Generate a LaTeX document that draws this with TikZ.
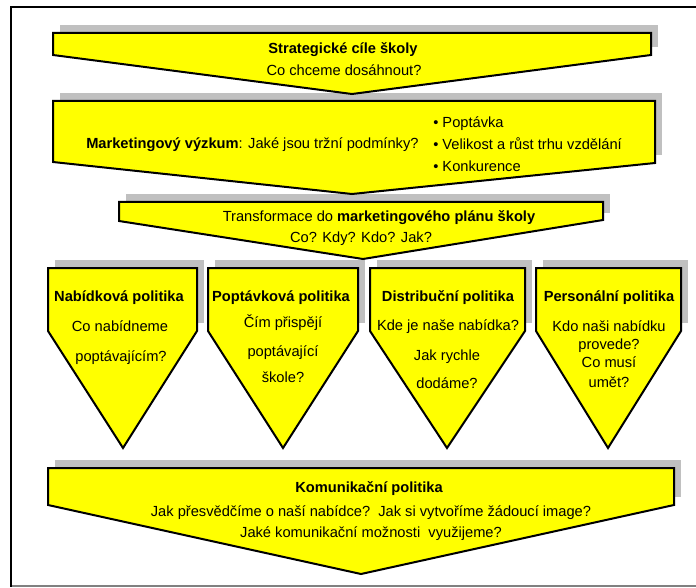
\documentclass[tikz,border=0pt]{standalone}
\usepackage{fontspec}
\setmainfont{Liberation Sans}
\definecolor{shadowgray}{HTML}{C0C0C0}
\definecolor{framegray}{HTML}{808080}
\definecolor{panelyellow}{HTML}{FFFF00}
\begin{document}
\begin{tikzpicture}[x=0.75pt,y=-0.75pt,
  panel/.style={fill=panelyellow, draw=black, line width=1.5pt, line join=miter},
  shade/.style={fill=shadowgray, draw=none},
  lbl/.style={inner sep=0pt, text height=8pt, text depth=0pt, font=\fontsize{11}{13}\selectfont, text=black},
  ttl/.style={lbl, font=\fontsize{11}{13}\selectfont\bfseries}]
\useasboundingbox (0,0) rectangle (696,588);
\fill[white] (0,0) rectangle (696,588);
% frame
\draw[framegray, line width=1.1pt] (11,586) -- (696,586);
\draw[black, line width=1.6pt] (696,7) -- (11,7) -- (11,586.5);

% shadows
\fill[shade] (60,25) rectangle (658,47);
\fill[shade] (60,93) rectangle (662,155);
\fill[shade] (126,194) rectangle (610,213);
\fill[shade] (55,260) rectangle (204,323);
\fill[shade] (215,260) rectangle (365,323);
\fill[shade] (377,260) rectangle (532,323);
\fill[shade] (543,260) rectangle (688,323);
\fill[shade] (55,460) rectangle (681,497);

% panels
\draw[panel] (53,33) -- (651,33) -- (651,55) -- (352,94) -- (53,55) -- cycle;
\draw[panel] (53,101) -- (655,101) -- (655,163) -- (352,194) -- (53,162) -- cycle;
\draw[panel] (119,202) -- (603,202) -- (603,220) -- (363,259) -- (119,221) -- cycle;
\draw[panel] (48,268) -- (197,268) -- (197,331) -- (123,448) -- (48,331) -- cycle;
\draw[panel] (208,268) -- (358,268) -- (358,331) -- (283,448) -- (208,331) -- cycle;
\draw[panel] (370,268) -- (525,268) -- (525,331) -- (447,448) -- (370,331) -- cycle;
\draw[panel] (536,268) -- (681,268) -- (681,331) -- (608,448) -- (536,331) -- cycle;
\draw[panel] (48,468) -- (674,468) -- (674,505) -- (361,574) -- (48,505) -- cycle;

% texts: top
\node[ttl] (a1) at (343,48) {Strategické cíle školy};
\node[lbl] (a2) at (344,70) {Co chceme dosáhnout?};
% market research
\node[lbl, anchor=west] (b1) at (86,143) {\textbf{Marketingový výzkum}: Jaké jsou tržní podmínky?};
\node[lbl, anchor=west] (b2) at (433,122) {•\ Poptávka};
\node[lbl, anchor=west] (b3) at (433,144) {•\ Velikost a růst trhu vzdělání};
\node[lbl, anchor=west] (b4) at (433,166) {•\ Konkurence};
% transformation
\node[lbl] (c1) at (379,216) {Transformace do \textbf{marketingového plánu školy}};
\node[lbl] (c2) at (361,237) {Co? Kdy? Kdo? Jak?};
% four policies
\node[ttl] (d1t) at (119,296) {Nabídková politika};
\node[lbl] (d1a) at (120,326) {Co nabídneme};
\node[lbl] (d1b) at (121,356) {poptávajícím?};
\node[ttl] (d2t) at (281,296) {Poptávková politika};
\node[lbl] (d2a) at (283,322) {Čím přispějí};
\node[lbl] (d2b) at (283,351) {poptávající};
\node[lbl] (d2c) at (283,377) {škole?};
\node[ttl] (d3t) at (448,296) {Distribuční politika};
\node[lbl] (d3a) at (448,325) {Kde je naše nabídka?};
\node[lbl] (d3b) at (447,355) {Jak rychle};
\node[lbl] (d3c) at (447,383) {dodáme?};
\node[ttl] (d4t) at (609,296) {Personální politika};
\node[lbl] (d4a) at (609,326) {Kdo naši nabídku};
\node[lbl] (d4b) at (609,344) {provede?};
\node[lbl] (d4c) at (609,362) {Co musí};
\node[lbl] (d4d) at (609,382) {umět?};
% communication
\node[ttl] (e1) at (369,487) {Komunikační politika};
\node[lbl] (e2) at (371,511) {Jak přesvědčíme o naší nabídce?\ \ Jak si vytvoříme žádoucí image?};
\node[lbl] (e3) at (371,532) {Jaké komunikační možnosti\ \ využijeme?};
\end{tikzpicture}
\end{document}
